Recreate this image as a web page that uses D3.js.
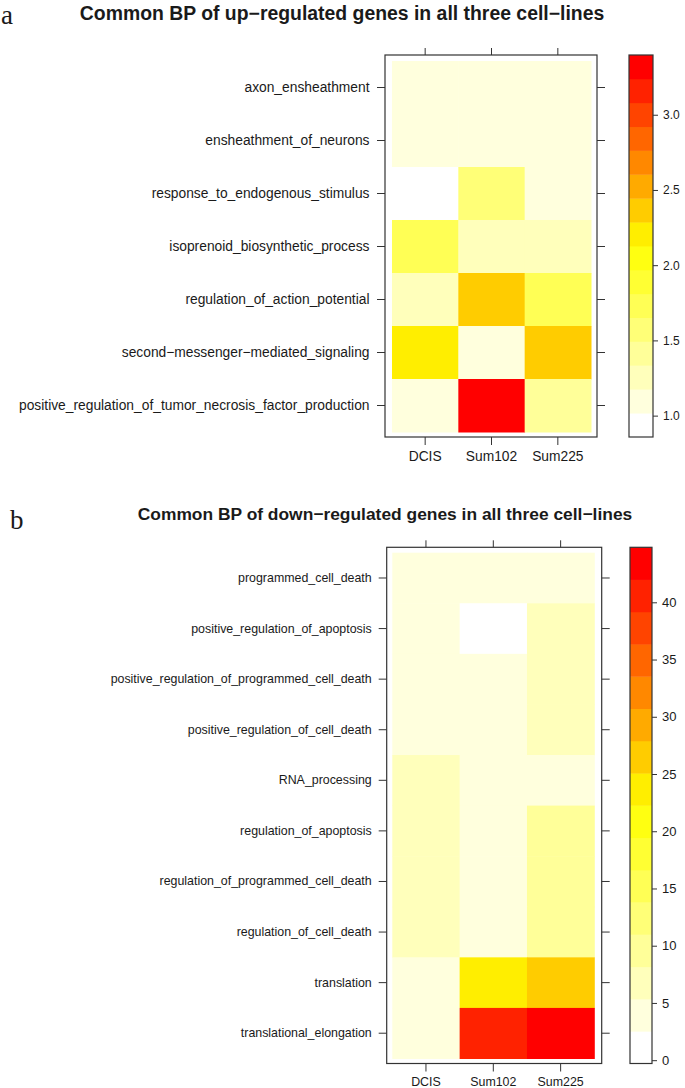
<!DOCTYPE html>
<html><head><meta charset="utf-8">
<script src="https://cdn.jsdelivr.net/npm/d3@7"></script>
<style>
body{margin:0;background:#fff;}
svg{display:block;}
text{font-family:"Liberation Sans",Arial,Helvetica,sans-serif;fill:#1a1a1a;}
</style></head>
<body>
<svg id="chart" width="685" height="1088"></svg>
<script>
// ---------- Data: panel a (up-regulated) ----------
const cellLines = ["DCIS", "Sum102", "Sum225"];
const termsA = [
  "axon_ensheathment",
  "ensheathment_of_neurons",
  "response_to_endogenous_stimulus",
  "isoprenoid_biosynthetic_process",
  "regulation_of_action_potential",
  "second\u2212messenger\u2212mediated_signaling",
  "positive_regulation_of_tumor_necrosis_factor_production"
];
const dcisA   = [1.10, 1.10, 0.941, 1.75, 1.24, 2.20, 1.07];
const sum102A = [1.10, 1.10, 1.58, 1.25, 2.37, 1.08, 3.314];
const sum225A = [1.10, 1.10, 1.06, 1.25, 1.75, 2.36, 1.40];
const ticksA  = [1.0, 1.5, 2.0, 2.5, 3.0];

// ---------- Data: panel b (down-regulated) ----------
const termsB = [
  "programmed_cell_death",
  "positive_regulation_of_apoptosis",
  "positive_regulation_of_programmed_cell_death",
  "positive_regulation_of_cell_death",
  "RNA_processing",
  "regulation_of_apoptosis",
  "regulation_of_programmed_cell_death",
  "regulation_of_cell_death",
  "translation",
  "translational_elongation"
];
const dcisB   = [4.0, 4.0, 4.0, 4.0, 6.5, 6.5, 6.5, 6.5, 3.3, 3.3];
const sum102B = [4.0, 1.185, 3.8, 3.8, 3.6, 3.6, 3.6, 3.6, 23.6, 40.5];
const sum225B = [3.6, 7.0, 7.0, 7.0, 3.6, 9.5, 9.5, 9.5, 26.5, 43.33];
const ticksB  = [0, 5, 10, 15, 20, 25, 30, 35, 40];

// 16 colour levels: white -> yellow -> red
const nLevels = 16;
const ramp = d3.piecewise(d3.interpolateRgb, ["#ffffff", "#ffff00", "#ff0000"]);
const palette = d3.range(nLevels).map(k => ramp(k / (nLevels - 1)));

const svg = d3.select("#chart");

function drawPanel(o) {
  const g = svg.append("g");
  const rows = o.terms.map((t, i) => ({term: t, vals: [o.dcis[i], o.s102[i], o.s225[i]]}));
  const all = rows.flatMap(r => r.vals);
  const [mn, mx] = d3.extent(all);
  const pad = 0.035 * (mx - mn);
  const lo = mn - pad, hi = mx + pad;
  const breaks = d3.range(nLevels + 1).map(k => lo + k * (hi - lo) / nLevels);
  const color = d3.scaleQuantize().domain([lo, hi]).range(palette);

  const x = d3.scaleBand().domain(cellLines).range([o.cx0, o.cx1]).padding(0);
  const y = d3.scaleBand().domain(o.terms).range([o.cy0, o.cy1]).padding(0);

  // cells
  const cells = [];
  rows.forEach(r => r.vals.forEach((v, j) => cells.push({term: r.term, col: cellLines[j], v})));
  g.selectAll("rect.cell").data(cells).join("rect")
    .attr("class", "cell")
    .attr("x", d => x(d.col)).attr("y", d => y(d.term))
    .attr("width", x.bandwidth() + 0.5).attr("height", y.bandwidth() + 0.5)
    .attr("fill", d => color(d.v));

  // axes
  const tickCol = "#333";
  const styleAxis = sel => {
    sel.select(".domain").remove();
    sel.selectAll(".tick line").attr("stroke", tickCol);
    sel.selectAll(".tick text").attr("fill", "#1a1a1a").style("font-family", "Liberation Sans, Arial, sans-serif");
  };
  g.append("g").attr("transform", `translate(${o.fx0},0)`)
    .call(d3.axisLeft(y).tickSize(8).tickPadding(o.labPad))
    .call(styleAxis).selectAll("text").style("font-size", o.labelSize + "px");
  g.append("g").attr("transform", `translate(${o.fx1},0)`)
    .call(d3.axisRight(y).tickSize(8).tickFormat(""))
    .call(styleAxis);
  g.append("g").attr("transform", `translate(0,${o.fy0})`)
    .call(d3.axisTop(x).tickSize(7).tickFormat(""))
    .call(styleAxis);
  g.append("g").attr("transform", `translate(0,${o.fy1})`)
    .call(d3.axisBottom(x).tickSize(8).tickPadding(6))
    .call(styleAxis).selectAll("text").style("font-size", o.labelSize + "px");

  // frame
  g.append("rect")
    .attr("x", o.fx0).attr("y", o.fy0)
    .attr("width", o.fx1 - o.fx0).attr("height", o.fy1 - o.fy0)
    .attr("fill", "none").attr("stroke", "#333").attr("stroke-width", 1.2);

  // colour key
  const ky = d3.scaleLinear().domain([lo, hi]).range([o.fy1, o.fy0]);
  const bands = d3.range(nLevels).map(k => ({a: breaks[k], b: breaks[k + 1], c: palette[k]}));
  g.selectAll("rect.key").data(bands).join("rect")
    .attr("class", "key")
    .attr("x", o.kx0).attr("width", o.kx1 - o.kx0)
    .attr("y", d => ky(d.b)).attr("height", d => ky(d.a) - ky(d.b) + 0.4)
    .attr("fill", d => d.c);
  g.append("rect")
    .attr("x", o.kx0).attr("y", o.fy0)
    .attr("width", o.kx1 - o.kx0).attr("height", o.fy1 - o.fy0)
    .attr("fill", "none").attr("stroke", "#333").attr("stroke-width", 1.2);
  g.append("g").attr("transform", `translate(${o.kx1},0)`)
    .call(d3.axisRight(ky).tickValues(o.ticks).tickSize(5).tickPadding(5).tickFormat(o.fmt))
    .call(styleAxis).selectAll("text").style("font-size", o.keySize + "px");

  // title and panel letter
  svg.append("text").attr("x", o.titleX).attr("y", o.titleY)
    .attr("text-anchor", "middle")
    .style("font-weight", "bold").style("font-size", o.titleSize + "px")
    .text(o.title);
  svg.append("text").attr("x", o.letterX).attr("y", o.letterY)
    .style("font-family", "Liberation Serif, Times New Roman, serif")
    .style("font-size", "27px")
    .text(o.letter);
}

drawPanel({
  terms: termsA, dcis: dcisA, s102: sum102A, s225: sum225A, ticks: ticksA,
  fmt: d3.format(".1f"),
  cx0: 392, cx1: 591, cy0: 61, cy1: 432,
  fx0: 385, fx1: 597, fy0: 55, fy1: 437,
  kx0: 629, kx1: 653,
  labelSize: 13.8, labPad: 7.5, keySize: 12,
  title: "Common BP of up\u2212regulated genes in all three cell\u2212lines",
  titleX: 342, titleY: 20, titleSize: 19.4,
  letter: "a", letterX: 1, letterY: 24
});

drawPanel({
  terms: termsB, dcis: dcisB, s102: sum102B, s225: sum225B, ticks: ticksB,
  fmt: d3.format("d"),
  cx0: 392.3, cx1: 594.3, cy0: 552.7, cy1: 1058.5,
  fx0: 386.7, fx1: 601.7, fy0: 547.3, fy1: 1063.5,
  kx0: 630, kx1: 652,
  labelSize: 12.4, labPad: 7, keySize: 13,
  title: "Common BP of down\u2212regulated genes in all three cell\u2212lines",
  titleX: 385, titleY: 520, titleSize: 17.4,
  letter: "b", letterX: 10, letterY: 529
});
</script>
</body></html>
